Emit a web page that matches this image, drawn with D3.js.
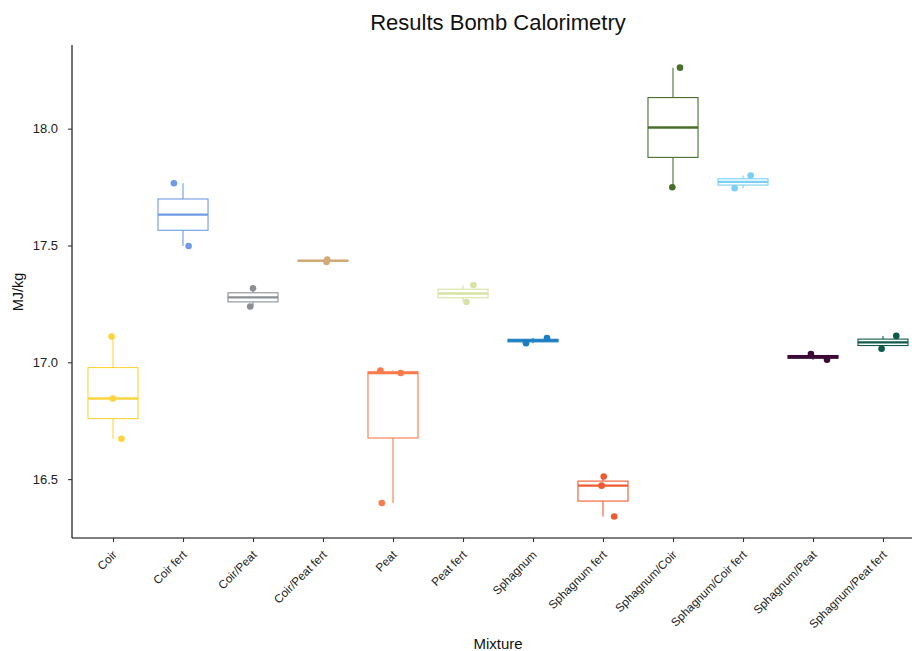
<!DOCTYPE html>
<html>
<head>
<meta charset="utf-8">
<script src="https://cdn.jsdelivr.net/npm/d3@7"></script>
<style>
  body { margin: 0; background: #fff; }
  svg { display: block; font-family: "Liberation Sans", Arial, Helvetica, sans-serif; }
</style>
</head>
<body>
<svg id="chart" width="912" height="651"></svg>
<script>
const categories = ["Coir", "Coir fert", "Coir/Peat", "Coir/Peat fert", "Peat", "Peat fert",
  "Sphagnum", "Sphagnum fert", "Sphagnum/Coir", "Sphagnum/Coir fert", "Sphagnum/Peat", "Sphagnum/Peat fert"];

// replicate measurements per mixture (MJ/kg)
const values = [
  [17.110, 16.845, 16.673],
  [17.766, 17.498],
  [17.317, 17.239],
  [17.440, 17.429],
  [16.965, 16.954, 16.398],
  [17.331, 17.258],
  [17.104, 17.082],
  [16.511, 16.472, 16.340],
  [18.261, 17.749],
  [17.799, 17.745],
  [17.035, 17.011],
  [17.113, 17.058]
];

// horizontal jitter of each point (category units)
const jitter = [
  [-0.02, 0.00, 0.12],
  [-0.13, 0.08],
  [0.00, -0.04],
  [0.06, 0.05],
  [-0.18, 0.11, -0.16],
  [0.15, 0.05],
  [0.20, -0.10],
  [0.01, -0.02, 0.16],
  [0.10, -0.01],
  [0.11, -0.12],
  [-0.03, 0.20],
  [0.19, -0.02]
];

const colors = ["#FDD33E", "#6E9BE4", "#8A8F94", "#D2AA78", "#FB7A4A", "#D6E3A4",
  "#1B7DC2", "#EF5A33", "#4A6F2B", "#78D0F4", "#3B0A36", "#105A4B"];

const yTicks = [16.5, 17.0, 17.5, 18.0];

const svg = d3.select("#chart");
const mLeft = 72, mBottom = 538, mTop = 45;

const x = d3.scaleLinear().domain([0.4, 12.6]).range([71, 925]);
const y = d3.scaleLinear().domain([16.248, 18.358]).range([mBottom, mTop]);

const boxW = 0.715;

function quant(arr) {
  const s = arr.slice().sort(d3.ascending);
  return {
    min: s[0], max: s[s.length - 1],
    q1: d3.quantile(s, 0.25), med: d3.quantile(s, 0.5), q3: d3.quantile(s, 0.75)
  };
}

const g = svg.append("g");

categories.forEach((c, i) => {
  const q = quant(values[i]);
  const cx = x(i + 1);
  const col = colors[i];
  const bx = x(i + 1 - boxW / 2), bw = x(i + 1 + boxW / 2) - bx;
  const grp = g.append("g");
  grp.append("line").attr("x1", cx).attr("x2", cx).attr("y1", y(q.q3)).attr("y2", y(q.max))
    .attr("stroke", col).attr("stroke-width", 1.1);
  grp.append("line").attr("x1", cx).attr("x2", cx).attr("y1", y(q.q1)).attr("y2", y(q.min))
    .attr("stroke", col).attr("stroke-width", 1.1);
  grp.append("rect").attr("x", bx).attr("y", y(q.q3)).attr("width", bw)
    .attr("height", Math.max(0, y(q.q1) - y(q.q3)))
    .attr("fill", "#fff").attr("stroke", col).attr("stroke-width", 1.1);
  grp.append("line").attr("x1", bx).attr("x2", bx + bw).attr("y1", y(q.med)).attr("y2", y(q.med))
    .attr("stroke", col).attr("stroke-width", 2.3);
});

categories.forEach((c, i) => {
  values[i].forEach((v, j) => {
    g.append("circle").attr("cx", x(i + 1 + jitter[i][j])).attr("cy", y(v)).attr("r", 3.3)
      .attr("fill", colors[i]);
  });
});

const yAxis = d3.axisLeft(y).tickValues(yTicks).tickFormat(d3.format(".1f")).tickSize(4).tickPadding(10);
const ya = svg.append("g").attr("transform", `translate(${mLeft},0)`).call(yAxis);
ya.select(".domain").attr("d", `M0,${mTop}V${mBottom}`).attr("stroke", "#000").attr("stroke-width", 1.1);
ya.selectAll(".tick line").attr("stroke", "#333").attr("stroke-width", 1.1);
ya.selectAll(".tick text").attr("font-size", 13).attr("fill", "#222")
  .attr("font-family", "Liberation Sans, Arial, sans-serif");

const xAxis = d3.axisBottom(x).tickValues(d3.range(1, 13)).tickFormat(d => categories[d - 1]).tickSize(4);
const xa = svg.append("g").attr("transform", `translate(0,${mBottom})`).call(xAxis);
xa.select(".domain").attr("d", `M${mLeft},0H925`).attr("stroke", "#000").attr("stroke-width", 1.1);
xa.selectAll(".tick line").attr("stroke", "#333").attr("stroke-width", 1.1);
xa.selectAll(".tick text")
  .attr("font-size", 11.7).attr("fill", "#222")
  .attr("font-family", "Liberation Sans, Arial, sans-serif")
  .attr("text-anchor", "end").attr("dy", null)
  .attr("transform", "translate(4,17.5) rotate(-45)")
  .attr("y", 0).attr("x", 0);

svg.append("text").attr("x", 498).attr("y", 30).attr("text-anchor", "middle")
  .attr("font-size", 22).attr("fill", "#111").text("Results Bomb Calorimetry");
svg.append("text").attr("x", 498).attr("y", 649).attr("text-anchor", "middle")
  .attr("font-size", 15).attr("fill", "#111").text("Mixture");
svg.append("text").attr("transform", "translate(23,292) rotate(-90)").attr("text-anchor", "middle")
  .attr("font-size", 14.5).attr("fill", "#111").text("MJ/kg");
</script>
</body>
</html>
